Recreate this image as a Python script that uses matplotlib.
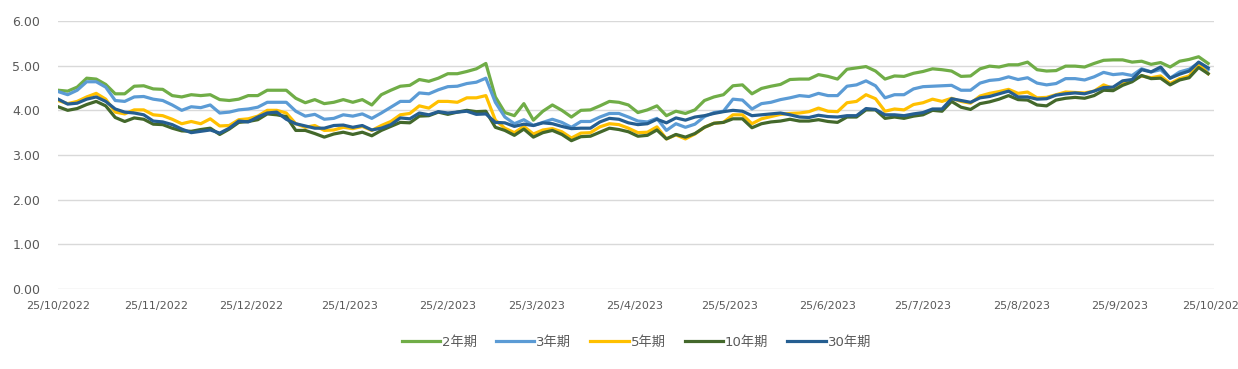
import matplotlib
matplotlib.use("Agg")
import matplotlib.pyplot as plt
import matplotlib.dates as mdates
import pandas as pd

plt.rcParams['font.family'] = ['DejaVu Sans', 'Noto Sans CJK TC']

# 數據：每三日取一點 (由 25/10/2022 起)
dates = pd.date_range('2022-10-25', periods=122, freq='3D')

y2 = [4.45, 4.43, 4.52, 4.72, 4.70, 4.58, 4.37, 4.37, 4.54, 4.55,
      4.48, 4.47, 4.33, 4.30, 4.35, 4.33, 4.35, 4.24, 4.22, 4.25,
      4.33, 4.33, 4.45, 4.45, 4.45, 4.27, 4.17, 4.24, 4.15, 4.18,
      4.24, 4.18, 4.24, 4.12, 4.35, 4.45, 4.54, 4.56, 4.69, 4.65,
      4.72, 4.82, 4.82, 4.87, 4.93, 5.05, 4.30, 3.95, 3.88, 4.15,
      3.78, 3.98, 4.12, 4.00, 3.85, 4.00, 4.01, 4.10, 4.20, 4.18,
      4.12, 3.95, 4.01, 4.10, 3.88, 3.98, 3.93, 4.01, 4.22, 4.30,
      4.35, 4.55, 4.57, 4.37, 4.49, 4.54, 4.58, 4.69, 4.70, 4.70,
      4.80, 4.76, 4.70, 4.92, 4.95, 4.98, 4.88, 4.70, 4.77, 4.76,
      4.83, 4.87, 4.93, 4.91, 4.88, 4.76, 4.77, 4.93, 4.99, 4.97,
      5.02, 5.02, 5.08, 4.91, 4.88, 4.89, 4.99, 4.99, 4.97, 5.05,
      5.12, 5.13, 5.13, 5.08, 5.10, 5.03, 5.07, 4.97, 5.10, 5.14,
      5.20, 5.05]

y3 = [4.42, 4.35, 4.45, 4.64, 4.64, 4.52, 4.22, 4.20, 4.30, 4.31,
      4.25, 4.22, 4.12, 4.00, 4.08, 4.06, 4.12, 3.94, 3.96, 4.01,
      4.03, 4.07, 4.18, 4.18, 4.18, 3.98, 3.87, 3.91, 3.80, 3.82,
      3.90, 3.87, 3.92, 3.82, 3.94, 4.07, 4.20, 4.20, 4.39, 4.37,
      4.46, 4.53, 4.54, 4.60, 4.63, 4.72, 4.18, 3.85, 3.70, 3.79,
      3.66, 3.73, 3.80, 3.73, 3.62, 3.75, 3.75, 3.85, 3.93, 3.93,
      3.85, 3.76, 3.74, 3.82, 3.55, 3.70, 3.62, 3.69, 3.86, 3.95,
      3.98, 4.25, 4.23, 4.03, 4.15, 4.18, 4.24, 4.28, 4.33, 4.31,
      4.38, 4.33, 4.33, 4.54, 4.57, 4.66, 4.55, 4.28, 4.35, 4.35,
      4.48, 4.53, 4.54, 4.55, 4.56, 4.45, 4.45, 4.61, 4.67, 4.69,
      4.75, 4.69, 4.73, 4.61, 4.57, 4.60, 4.71, 4.71, 4.68, 4.75,
      4.85, 4.80, 4.82, 4.78, 4.93, 4.86, 4.91, 4.72, 4.86, 4.92,
      5.06, 4.91]

y5 = [4.22, 4.15, 4.20, 4.30, 4.38, 4.25, 3.96, 3.92, 4.01, 4.01,
      3.90, 3.88, 3.80, 3.70, 3.75, 3.70, 3.81, 3.65, 3.66, 3.79,
      3.81, 3.87, 4.00, 4.00, 3.94, 3.70, 3.62, 3.66, 3.55, 3.56,
      3.62, 3.59, 3.64, 3.55, 3.66, 3.75, 3.90, 3.93, 4.10, 4.05,
      4.20, 4.20, 4.18, 4.28, 4.28, 4.33, 3.78, 3.60, 3.50, 3.64,
      3.47, 3.56, 3.59, 3.52, 3.38, 3.49, 3.50, 3.63, 3.70, 3.68,
      3.60, 3.50, 3.51, 3.63, 3.36, 3.45, 3.36, 3.47, 3.62, 3.71,
      3.73, 3.90, 3.90, 3.70, 3.81, 3.86, 3.91, 3.93, 3.94, 3.97,
      4.05, 3.98, 3.97, 4.17, 4.20, 4.35, 4.26, 3.98, 4.03, 4.01,
      4.13, 4.17, 4.25, 4.20, 4.27, 4.20, 4.16, 4.32, 4.38, 4.42,
      4.47, 4.38, 4.41, 4.28, 4.29, 4.35, 4.41, 4.40, 4.39, 4.43,
      4.57, 4.49, 4.61, 4.68, 4.77, 4.73, 4.77, 4.60, 4.71, 4.77,
      5.03, 4.82]

y10 = [4.08, 4.00, 4.04, 4.13, 4.20, 4.10, 3.84, 3.75, 3.83, 3.80,
       3.69, 3.68, 3.60, 3.54, 3.53, 3.57, 3.60, 3.46, 3.58, 3.73,
       3.75, 3.79, 3.92, 3.90, 3.86, 3.55, 3.55, 3.48, 3.40, 3.47,
       3.51, 3.46, 3.51, 3.43, 3.55, 3.64, 3.73, 3.72, 3.87, 3.88,
       3.96, 3.91, 3.96, 4.00, 3.97, 3.98, 3.62, 3.55, 3.44, 3.58,
       3.40, 3.50, 3.55, 3.46, 3.32, 3.41, 3.42, 3.51, 3.60, 3.57,
       3.52, 3.42, 3.44, 3.56, 3.36, 3.46, 3.40, 3.48, 3.62, 3.71,
       3.73, 3.81, 3.81, 3.61, 3.70, 3.74, 3.76, 3.80, 3.76, 3.76,
       3.79, 3.75, 3.73, 3.85, 3.85, 4.01, 4.01, 3.82, 3.85, 3.82,
       3.87, 3.90, 4.00, 3.98, 4.20, 4.07, 4.02, 4.15, 4.19, 4.25,
       4.33, 4.24, 4.23, 4.12, 4.10, 4.23, 4.27, 4.29, 4.27, 4.33,
       4.45, 4.44, 4.56, 4.64, 4.78, 4.71, 4.72, 4.57, 4.68, 4.73,
       4.96, 4.82]

y30 = [4.25, 4.14, 4.16, 4.25, 4.30, 4.20, 4.03, 3.96, 3.94, 3.90,
       3.76, 3.74, 3.68, 3.58, 3.50, 3.53, 3.56, 3.49, 3.60, 3.76,
       3.74, 3.85, 3.94, 3.96, 3.80, 3.70, 3.65, 3.60, 3.60, 3.66,
       3.67, 3.62, 3.66, 3.56, 3.60, 3.68, 3.83, 3.81, 3.94, 3.90,
       3.97, 3.94, 3.96, 3.98, 3.91, 3.92, 3.73, 3.72, 3.64, 3.69,
       3.66, 3.72, 3.70, 3.64, 3.59, 3.60, 3.60, 3.74, 3.82, 3.80,
       3.72, 3.68, 3.70, 3.80, 3.72, 3.83, 3.78, 3.85, 3.88, 3.93,
       3.97, 4.00, 3.98, 3.88, 3.90, 3.92, 3.94, 3.90, 3.85, 3.84,
       3.89, 3.86, 3.85, 3.88, 3.88, 4.04, 4.02, 3.90, 3.90, 3.88,
       3.92, 3.95, 4.03, 4.03, 4.26, 4.22, 4.18, 4.28, 4.31, 4.37,
       4.43, 4.30, 4.30, 4.25, 4.26, 4.34, 4.37, 4.39, 4.37, 4.43,
       4.51, 4.52, 4.66, 4.69, 4.91, 4.86, 4.97, 4.72, 4.81, 4.88,
       5.08, 4.95]

labels = ['2年期', '3年期', '5年期', '10年期', '30年期']
colors = ['#70AD47', '#5B9BD5', '#FFC000', '#43682B', '#255E91']

fig = plt.figure(figsize=(12.38, 3.69), dpi=100)
ax = fig.add_axes([0.047, 0.217, 0.934, 0.726])

for vals, lab, col in zip([y2, y3, y5, y10, y30], labels, colors):
    ax.plot(dates, vals, color=col, lw=2.3, label=lab, solid_joinstyle='round')

# 軸設定
ax.set_ylim(0, 6)
ax.set_yticks([0, 1, 2, 3, 4, 5, 6])
ax.yaxis.set_major_formatter(plt.FuncFormatter(lambda v, p: f"{v:.2f}"))
ax.set_xlim(pd.Timestamp('2022-10-25'), pd.Timestamp('2023-10-25'))
ax.xaxis.set_major_locator(mdates.MonthLocator(bymonthday=25))
ax.xaxis.set_major_formatter(plt.FuncFormatter(
    lambda v, p: (lambda d: f"{d.day}/{d.month}/{d.year}")(mdates.num2date(v))))

ax.grid(axis='y', color='#d9d9d9', lw=1)
ax.set_axisbelow(True)
for s in ax.spines.values():
    s.set_visible(False)
ax.tick_params(length=0)
ax.tick_params(axis='y', labelsize=9, labelcolor='#595959', pad=13)
ax.tick_params(axis='x', labelsize=8, labelcolor='#595959', pad=9)

ax.legend(loc='upper center', bbox_to_anchor=(0.5, -0.13), ncol=5, frameon=False,
          fontsize=9.5, labelcolor='#595959', handlelength=2.9,
          handletextpad=0.15, columnspacing=1.45)

fig.savefig('out.png', dpi=100)
